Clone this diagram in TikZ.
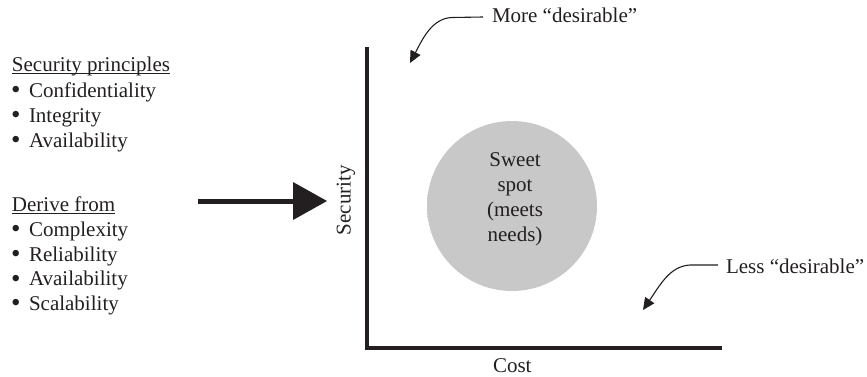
\documentclass[tikz,border=0pt]{standalone}
\usepackage{fontspec}
\setmainfont{Liberation Serif}
\usetikzlibrary{arrows.meta}
\definecolor{ink}{HTML}{231F20}
\definecolor{sweetgray}{RGB}{200,200,200}
\pgfdeclareradialshading{sweetshade}{\pgfpoint{0bp}{0bp}}{color(0bp)=(sweetgray); color(40bp)=(sweetgray); color(50bp)=(white); color(100bp)=(white)}
\newcommand\myul[1]{\setbox0\hbox{#1}\rlap{\rule[-2.5pt]{\wd0}{0.9pt}}\box0}
\newcommand\bul{\makebox[18pt][l]{\raisebox{-1.2pt}{\fontsize{27}{25}\selectfont •}}}
\begin{document}
\begin{tikzpicture}[x=1pt,y=-1pt,
  every node/.style={inner sep=0pt, outer sep=0pt, text=ink, font=\fontsize{21}{25}\selectfont},
  item/.style={anchor=base west},
  axisline/.style={draw=ink, line width=4pt},
  bigarrow/.style={draw=ink, line width=5pt},
  pointer/.style={draw=ink, line width=1.1pt, -{Triangle[length=12pt,width=11pt]}}]
\useasboundingbox (0,0) rectangle (867,376);

% left lists
\node[item] (sp) at (12,71.5) {\myul{Security principles}};
\node[item] (c1) at (11,97) {\bul Confidentiality};
\node[item] (c2) at (11,122) {\bul Integrity};
\node[item] (c3) at (11,147) {\bul Availability};
\node[item] (df) at (12,211.5) {\myul{Derive from}};
\node[item] (d1) at (11,236.3) {\bul Complexity};
\node[item] (d2) at (11,261.1) {\bul Reliability};
\node[item] (d3) at (11,285.9) {\bul Availability};
\node[item] (d4) at (11,310.7) {\bul Scalability};

% big arrow
\coordinate (aS) at (198,201);
\coordinate (aB) at (293,201);
\coordinate (aT) at (327,201);
\draw[bigarrow] (aS) -- (aB);
\fill[ink] (293,182) -- (aT) -- (293,220) -- cycle;

% axes
\coordinate (yTop) at (367,47);
\coordinate (xEnd) at (722,348);
\draw[axisline] (yTop) |- (xEnd);
\node[rotate=90] (sec) at (346,200) {Security};
\node[item] (cost) at (493,372) {Cost};

% sweet spot
\node[circle, minimum size=170pt, shading=sweetshade] (spot) at (512,206) {};
\node[align=center] (spottxt) at (515,199.5) {Sweet\\spot\\(meets\\needs)};

% desirability pointers
\node[item] (more) at (492,22) {More “desirable”};
\coordinate (moreStart) at (483,17);
\coordinate (moreTip) at (410,63);
\draw[pointer] (moreStart) -- (452,17.5) .. controls (432,18) and (422,40) .. (moreTip);

\node[item] (less) at (726,273) {Less “desirable”};
\coordinate (lessStart) at (718,265);
\coordinate (lessTip) at (643,310);
\draw[pointer] (lessStart) -- (690,265) .. controls (670,266) and (660,285) .. (lessTip);
\end{tikzpicture}
\end{document}
